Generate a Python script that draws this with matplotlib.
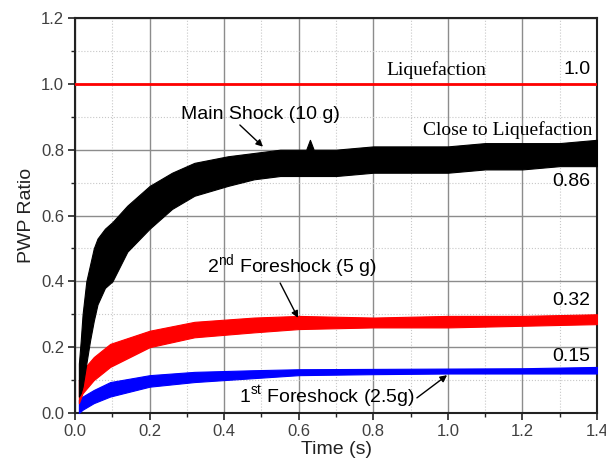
import numpy as np
import matplotlib.pyplot as plt
from matplotlib.ticker import MultipleLocator

# envelope of each noisy record (time, lower, upper)
t_main = [0.01, 0.015, 0.02, 0.03, 0.04, 0.05, 0.06, 0.08, 0.10, 0.14, 0.20, 0.26, 0.32, 0.41, 0.48,
          0.55, 0.62, 0.63, 0.64, 0.70, 0.80, 0.90, 1.00, 1.10, 1.20, 1.30, 1.40]
main_lo = [0.05, 0.06, 0.08, 0.15, 0.22, 0.28, 0.33, 0.38, 0.40, 0.49, 0.56, 0.62, 0.66, 0.69, 0.71,
           0.72, 0.72, 0.72, 0.72, 0.72, 0.73, 0.73, 0.73, 0.74, 0.74, 0.75, 0.75]
main_hi = [0.15, 0.22, 0.30, 0.40, 0.45, 0.50, 0.53, 0.56, 0.58, 0.63, 0.69, 0.73, 0.76, 0.78, 0.79,
           0.80, 0.80, 0.83, 0.80, 0.80, 0.81, 0.81, 0.81, 0.82, 0.82, 0.82, 0.83]

t_fs2 = [0.01, 0.02, 0.05, 0.094, 0.20, 0.32, 0.48, 0.60, 0.80, 1.00, 1.20, 1.40]
fs2_lo = [0.03, 0.06, 0.10, 0.14, 0.20, 0.23, 0.245, 0.255, 0.26, 0.26, 0.265, 0.27]
fs2_hi = [0.10, 0.13, 0.17, 0.21, 0.25, 0.277, 0.29, 0.295, 0.29, 0.295, 0.295, 0.30]

t_fs1 = [0.01, 0.02, 0.05, 0.094, 0.20, 0.32, 0.48, 0.60, 0.80, 1.00, 1.20, 1.40]
fs1_lo = [0.00, 0.01, 0.03, 0.05, 0.08, 0.094, 0.106, 0.115, 0.118, 0.12, 0.12, 0.12]
fs1_hi = [0.04, 0.05, 0.07, 0.094, 0.115, 0.125, 0.13, 0.133, 0.134, 0.135, 0.136, 0.14]

liq_level = 1.0

sans = 'Liberation Sans'
serif = 'Liberation Serif'
plt.rcParams['mathtext.fontset'] = 'custom'
plt.rcParams['mathtext.rm'] = sans

fig = plt.figure(figsize=(6.06, 4.68), dpi=100)
ax = fig.add_axes([0.124, 0.1175, 0.861, 0.844])

ax.fill_between(t_fs1, fs1_lo, fs1_hi, color='#0000ff', lw=0.8, zorder=3)
ax.fill_between(t_fs2, fs2_lo, fs2_hi, color='#ff0000', lw=0.8, zorder=3)
ax.fill_between(t_main, main_lo, main_hi, color='black', lw=0.8, zorder=4)
ax.axhline(liq_level, color='#ff0000', lw=2, zorder=3)

ax.set_xlim(0, 1.4)
ax.set_ylim(0, 1.2)
ax.xaxis.set_major_locator(MultipleLocator(0.2))
ax.xaxis.set_minor_locator(MultipleLocator(0.1))
ax.yaxis.set_major_locator(MultipleLocator(0.2))
ax.yaxis.set_minor_locator(MultipleLocator(0.1))
ax.xaxis.set_major_formatter(lambda v, p: f'{v:.1f}')
ax.yaxis.set_major_formatter(lambda v, p: f'{v:.1f}')
ax.grid(which='major', color='#8c8c8c', lw=1.0, zorder=0)
ax.grid(which='minor', color='#c8c8c8', lw=0.8, ls=':', zorder=0)
ax.set_axisbelow(True)
ax.tick_params(which='both', direction='out', top=False, right=False, labelsize=12,
               colors='#222222', labelcolor='#404040')
ax.tick_params(which='major', length=5, width=1.2, pad=3)
ax.tick_params(which='minor', length=3, width=1)
for lab in ax.get_xticklabels() + ax.get_yticklabels():
    lab.set_family(sans)
for s in ax.spines.values():
    s.set_linewidth(1.5)
    s.set_color('#222222')

ax.set_xlabel('Time (s)', family=sans, fontsize=14, labelpad=1, color='#222222')
ax.set_ylabel('PWP Ratio', family=sans, fontsize=14, labelpad=4, color='#222222')

ax.text(0.968, 1.043, 'Liquefaction', family=serif, fontsize=14, ha='center', va='center')
ax.text(1.383, 1.043, '1.0', family=sans, fontsize=14, ha='right', va='center')
ax.text(1.389, 0.86, 'Close to Liquefaction', family=serif, fontsize=14, ha='right', va='center')
ax.text(1.383, 0.702, '0.86', family=sans, fontsize=14, ha='right', va='center')
ax.text(1.383, 0.343, '0.32', family=sans, fontsize=14, ha='right', va='center')
ax.text(1.383, 0.173, '0.15', family=sans, fontsize=14, ha='right', va='center')

arrow = dict(arrowstyle='-|>', color='black', lw=1, mutation_scale=10, shrinkA=0, shrinkB=0)
ax.text(0.496, 0.906, 'Main Shock (10 g)', family=sans, fontsize=14, ha='center', va='center')
ax.annotate('', xy=(0.504, 0.809), xytext=(0.442, 0.875), arrowprops=arrow, zorder=6)
ax.text(0.582, 0.444, r'2$^{\rm nd}$ Foreshock (5 g)', family=sans, fontsize=14, ha='center', va='center')
ax.annotate('', xy=(0.598, 0.289), xytext=(0.550, 0.395), arrowprops=arrow, zorder=6)
ax.text(0.676, 0.049, r'1$^{\rm st}$ Foreshock (2.5g)', family=sans, fontsize=14, ha='center', va='center')
ax.annotate('', xy=(0.998, 0.115), xytext=(0.917, 0.046), arrowprops=arrow, zorder=6)

fig.savefig('out.png', dpi=100)
